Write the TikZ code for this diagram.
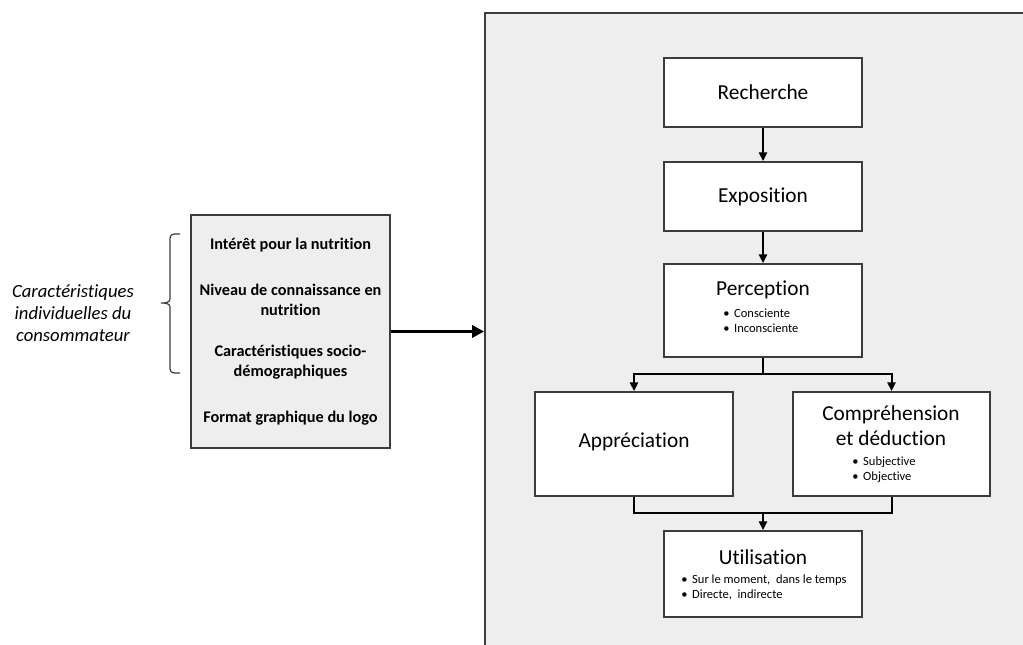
\documentclass[tikz,border=0pt]{standalone}
\usepackage{fontspec}
\setmainfont[Ligatures=NoCommon]{Carlito}
\usetikzlibrary{arrows.meta}

\definecolor{panelgray}{RGB}{237,238,237}
\definecolor{edgegray}{RGB}{60,60,60}

\tikzset{
  px/.style={x=0.75pt, y=-0.75pt},
  frame/.style={draw=edgegray, line width=1.3pt, inner sep=0pt},
  stagebox/.style={frame, fill=white, minimum width=148.5pt},
  title/.style={inner sep=0pt, font=\fontsize{16}{18.75}\selectfont, align=center},
  bullets/.style={inner sep=0pt, font=\fontsize{9.4}{11.6}\selectfont, align=left},
  factor/.style={inner sep=0pt, font=\fontsize{12.2}{15}\selectfont\bfseries, align=center},
  flow/.style={line width=1.5pt, -{Triangle[length=6.5pt,width=6pt]}},
  link/.style={line width=1.5pt},
  bigflow/.style={line width=2.8pt, -{Triangle[length=9pt,width=9pt]}},
}

\newcommand{\itm}{\textbullet\hspace{3.5pt}}

\begin{document}
\begin{tikzpicture}[px]
  \useasboundingbox (0,0) rectangle (1023,645);
  \clip (0,0) rectangle (1023,645);

  % process panel (runs off the right and bottom edges)
  \node[frame, fill=panelgray, minimum width=416.25pt, minimum height=492.75pt]
    (panel) at (762.5,341.5) {};

  % left block of influencing factors
  \node[frame, fill=panelgray, minimum width=149.25pt, minimum height=174.75pt]
    (lbox) at (290.5,331.5) {};
  \node[factor] (f1) at (290.5,245) {Intérêt pour la nutrition};
  \node[factor] (f2) at (290.5,300) {Niveau de connaissance en\\nutrition};
  \node[factor] (f3) at (290.5,362) {Caractéristiques socio-\\démographiques};
  \node[factor] (f4) at (290.5,418) {Format graphique du logo};

  % consumer characteristics label and its brace
  \node[inner sep=0pt, font=\fontsize{14}{16.5}\selectfont\itshape, align=center]
    (consumer) at (73,313) {Caractéristiques\\individuelles du\\consommateur};
  \draw[edgegray, line width=0.9pt]
    (180,234) -- (174,234) to[out=180,in=90] (170,238) -- (170,299)
    to[out=-90,in=0] (161,303) to[out=0,in=90] (170,307) -- (170,369)
    to[out=-90,in=180] (174,373) -- (180,373);

  % stages
  \node[stagebox, minimum height=51.75pt] (rech) at (763,92.5) {};
  \node[title] (rech-t) at (763,92.5) {Recherche};

  \node[stagebox, minimum height=51.75pt] (expo) at (763,196.5) {};
  \node[title] (expo-t) at (763,196.5) {Exposition};

  \node[stagebox, minimum height=69.75pt] (perc) at (763,310.5) {};
  \node[title] (perc-t) at (763,290) {Perception};
  \node[bullets, anchor=west] (perc-l) at (723,320.5) {\itm Consciente\\\itm Inconsciente};

  \node[stagebox, minimum height=78pt] (appr) at (634,444) {};
  \node[title] (appr-t) at (634,442) {Appréciation};

  \node[stagebox, minimum width=147.75pt, minimum height=78pt] (comp) at (891.5,444) {};
  \node[title] (comp-t) at (891,425.5) {Compréhension\\et déduction};
  \node[bullets, anchor=west] (comp-l) at (852,469.5) {\itm Subjective\\\itm Objective};

  \node[stagebox, minimum height=64.5pt] (util) at (763,574) {};
  \node[title] (util-t) at (763,557) {Utilisation};
  \node[bullets, anchor=west] (util-l) at (681,587.5) {\itm Sur le moment,\ \ dans le temps\\\itm Directe,\ \ indirecte};

  % connectors
  \draw[bigflow] (lbox.east) -- (lbox.east -| panel.west);
  \draw[flow] (rech) -- (expo);
  \draw[flow] (expo) -- (perc);

  \coordinate (split) at (763,374);
  \draw[link] (perc.south) -- (split);
  \draw[flow] (split) -| (appr.north);
  \draw[flow] (split) -| (comp.north);

  \coordinate (merge) at (763,513);
  \draw[link] (appr.south) |- (merge);
  \draw[link] (comp.south) |- (merge);
  \draw[flow] (merge) -- (util.north);
\end{tikzpicture}
\end{document}
